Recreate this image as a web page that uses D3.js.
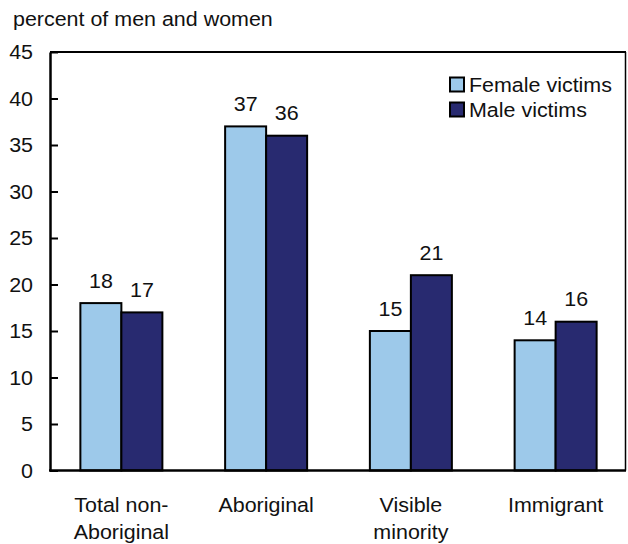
<!DOCTYPE html>
<html>
<head>
<meta charset="utf-8">
<script src="https://cdn.jsdelivr.net/npm/d3@7"></script>
<style>
  html, body { margin: 0; padding: 0; background: #fff; }
  svg { display: block; }
  text { font-family: "Liberation Sans", Arial, Helvetica, sans-serif; fill: #111; }
</style>
</head>
<body>
<svg id="chart" width="628" height="544"></svg>
<script>
const categories = [["Total non-", "Aboriginal"], ["Aboriginal"], ["Visible", "minority"], ["Immigrant"]];
const seriesNames = ["Female victims", "Male victims"];
const femaleValues = [18, 37, 15, 14];
const maleValues = [17, 36, 21, 16];
const yTicks = [0, 5, 10, 15, 20, 25, 30, 35, 40, 45];
const yTitle = "percent of men and women";

const colors = ["#9DC9EA", "#282A70"];
const fontSize = 19.5, sx = 1.1;

const svg = d3.select("#chart");
const plotL = 50, plotR = 628, plotT = 52, plotB = 470.5;

const x = d3.scaleBand().domain(d3.range(categories.length)).range([plotL - 1, plotR]);
const y = d3.scaleLinear().domain([0, 45]).range([plotB, plotT]);
const barW = 41;
const xs = d3.scaleBand().domain([0, 1]).range([-barW, barW]);

function label(g, tx, ty, str, anchor) {
  return g.append("text")
    .attr("transform", `translate(${tx},${ty}) scale(${sx},1)`)
    .attr("text-anchor", anchor || "start")
    .style("font-size", fontSize + "px")
    .text(str);
}

// title
label(svg, 13, 26, yTitle, "start");

// frame (top and right)
svg.append("line").attr("x1", plotL).attr("x2", 626).attr("y1", plotT).attr("y2", plotT)
  .attr("stroke", "#000").attr("stroke-width", 2);
svg.append("line").attr("x1", 625.5).attr("x2", 625.5).attr("y1", plotT).attr("y2", plotB)
  .attr("stroke", "#000").attr("stroke-width", 1.5);

// bars
const data = [femaleValues, maleValues];
const groups = svg.append("g");
categories.forEach((c, i) => {
  const cx = x(i) + x.bandwidth() / 2;
  data.forEach((vals, s) => {
    const v = vals[i];
    const bx = cx + xs(s);
    groups.append("rect")
      .attr("x", bx).attr("y", y(v))
      .attr("width", barW).attr("height", y(0) - y(v))
      .attr("fill", colors[s]).attr("stroke", "#000").attr("stroke-width", 2);
    label(groups, bx + barW / 2, y(v) - 15.5, String(v), "middle");
  });
  categories[i].forEach((line, li) => {
    label(svg, cx, 511.5 + li * 27.5, line, "middle");
  });
});

// y axis
const yAxis = d3.axisLeft(y).tickValues(yTicks).tickSizeInner(-8).tickSizeOuter(0).tickPadding(17);
const ga = svg.append("g").attr("transform", `translate(${plotL},0)`).call(yAxis);
ga.select(".domain").attr("stroke", "#000").attr("stroke-width", 2.5);
ga.selectAll(".tick line").attr("stroke", "#000").attr("stroke-width", 2);
ga.selectAll(".tick text").remove();
yTicks.forEach(t => label(svg, 33, y(t) + 7, String(t), "end"));

// x axis baseline
svg.append("line").attr("x1", plotL - 1).attr("x2", 626).attr("y1", plotB).attr("y2", plotB)
  .attr("stroke", "#000").attr("stroke-width", 2.5);

// legend
const lg = svg.append("g");
seriesNames.forEach((n, i) => {
  lg.append("rect").attr("x", 450).attr("y", 77.5 + i * 25).attr("width", 14).attr("height", 14)
    .attr("fill", colors[i]).attr("stroke", "#000").attr("stroke-width", 2);
  label(lg, 469, 92 + i * 25, n, "start");
});
</script>
</body>
</html>
